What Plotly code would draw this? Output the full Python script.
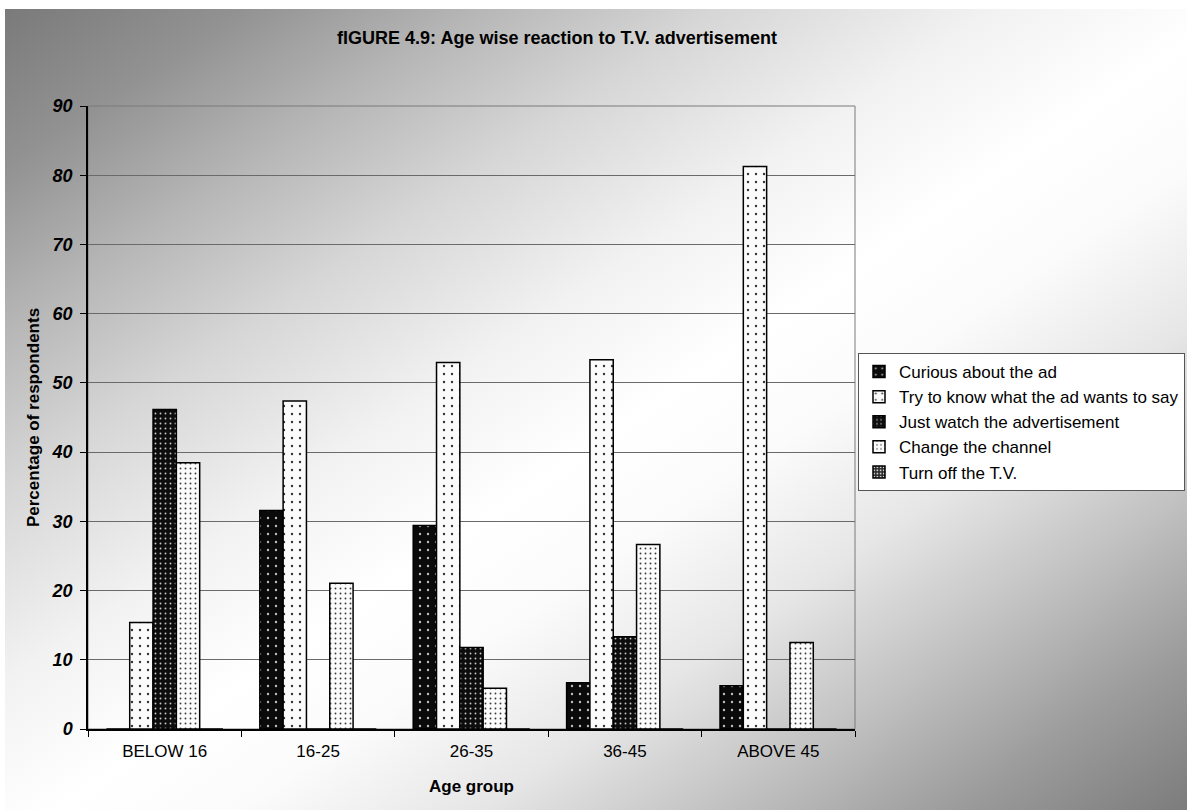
import base64
import plotly.graph_objects as go

categories = ["BELOW 16", "16-25", "26-35", "36-45", "ABOVE 45"]
curious = [0, 31.58, 29.41, 6.67, 6.25]
try_know = [15.38, 47.37, 52.94, 53.33, 81.25]
just_watch = [46.15, 0, 11.76, 13.33, 0]
change_channel = [38.46, 21.05, 5.88, 26.67, 12.5]
turn_off = [0, 0, 0, 0, 0]

series = [
    ("Curious about the ad", curious, "#0a0a0a", "#bdbdbd", 8, 0.07),
    ("Try to know what the ad wants to say", try_know, "#fbfbfb", "#333333", 8, 0.07),
    ("Just watch the advertisement", just_watch, "#0d0d0d", "#c8c8c8", 5, 0.11),
    ("Change the channel", change_channel, "#fbfbfb", "#3a3a3a", 5, 0.11),
    ("Turn off the T.V.", turn_off, "#2a2a2a", "#cfcfcf", 4, 0.3),
]

W, H = 1187, 810
L, R, T, B = 88, 332, 106, 81
PW, PH = W - L - R, H - T - B

FONT = "Liberation Sans, Arial, sans-serif"

fig = go.Figure()
for name, vals, bg, fg, sz, sol in series:
    fig.add_trace(go.Bar(
        name=name, x=categories, y=vals,
        marker=dict(
            color=bg,
            line=dict(color="#000000", width=1.5),
            pattern=dict(shape=".", bgcolor=bg, fgcolor=fg, size=sz,
                         solidity=sol, fillmode="replace"),
        ),
    ))

stops = [(0, "#7a7a7a"), (0.1, "#929292"), (0.2, "#b6b6b6"), (0.3, "#d6d6d6"),
         (0.42, "#f2f2f2"), (0.52, "#ffffff"), (0.6, "#fbfbfb"), (0.7, "#e6e6e6"),
         (0.8, "#c2c2c2"), (0.9, "#9c9c9c"), (1.0, "#7c7c7c")]
stop_xml = "".join(f'<stop offset="{o}" stop-color="{c}"/>' for o, c in stops)
svg = (f'<svg xmlns="http://www.w3.org/2000/svg" width="{W}" height="{H}" '
       f'viewBox="0 0 {W} {H}" preserveAspectRatio="none">'
       f'<defs><linearGradient id="g" x1="0" y1="0" x2="1" y2="1">{stop_xml}'
       f'</linearGradient></defs>'
       f'<rect x="5" y="9" width="{W-5}" height="{H-9}" fill="url(#g)"/></svg>')
src = "data:image/svg+xml;base64," + base64.b64encode(svg.encode()).decode()

fig.add_layout_image(dict(
    source=src, xref="paper", yref="paper",
    x=-L / PW, y=1 + T / PH, sizex=W / PW, sizey=H / PH,
    xanchor="left", yanchor="top", sizing="stretch", layer="below",
))

fig.add_shape(type="rect", xref="paper", yref="paper", x0=0, x1=1, y0=0, y1=1,
              line=dict(color="#7a7a7a", width=1), layer="below")

fig.update_layout(
    width=W, height=H,
    margin=dict(l=L, r=R, t=T, b=B, autoexpand=False),
    paper_bgcolor="#ffffff",
    plot_bgcolor="rgba(0,0,0,0)",
    barmode="group", bargap=0.24, bargroupgap=0,
    font=dict(family=FONT, size=17, color="#000000"),
    title=dict(text="<b>fIGURE 4.9: Age wise reaction to T.V. advertisement</b>",
               x=557 / W, xref="container", xanchor="center",
               y=1 - 38 / H, yref="container", yanchor="middle",
               font=dict(family=FONT, size=18, color="#000000")),
    showlegend=True,
    legend=dict(xref="container", yref="container",
                x=858 / W, xanchor="left", y=1 - 353 / H, yanchor="top",
                bgcolor="#ffffff", bordercolor="#555555", borderwidth=1,
                font=dict(family=FONT, size=17, color="#000000"),
                tracegroupgap=0),
    xaxis=dict(
        showline=True, linecolor="#000000", linewidth=1.5,
        ticks="outside", ticklen=6, tickcolor="#000000", tickson="boundaries",
        ticklabelstandoff=6,
        tickfont=dict(family=FONT, size=17, color="#000000"),
        title=dict(text="<b>Age group</b>", standoff=20,
                   font=dict(family=FONT, size=17, color="#000000")),
        showgrid=False,
    ),
    yaxis=dict(
        range=[0, 90], dtick=10, tick0=0,
        showline=True, linecolor="#000000", linewidth=1.5,
        ticks="outside", ticklen=6, tickcolor="#000000",
        ticklabelstandoff=4,
        tickfont=dict(family=FONT, size=18, color="#000000", weight="bold", style="italic"),
        showgrid=True, gridcolor="#6a6a6a", gridwidth=1,
        zeroline=False,
        title=dict(text="<b>Percentage of respondents</b>", standoff=8,
                   font=dict(family=FONT, size=17, color="#000000")),
    ),
)

fig.write_html("out.html")
